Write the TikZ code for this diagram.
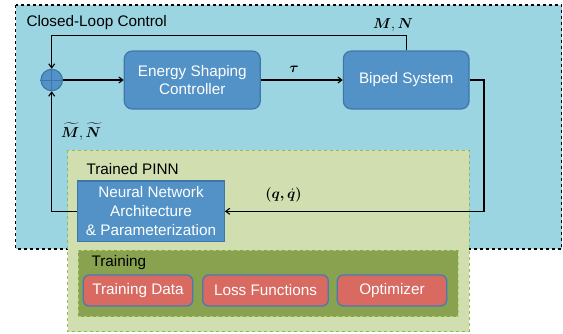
\documentclass[tikz,border=0pt]{standalone}
\usepackage{amsmath}
\usepackage{bm}
\usepackage{fontspec}
\setsansfont{Liberation Sans}
\usetikzlibrary{arrows.meta}

\definecolor{loopblue}{HTML}{9BD5E2}
\definecolor{boxblue}{HTML}{5292C6}
\definecolor{boxedge}{HTML}{3F76AA}
\definecolor{pinngreen}{HTML}{D0DEB0}
\definecolor{pinnedge}{HTML}{96B75A}
\definecolor{trainolive}{HTML}{88A24F}
\definecolor{trainedge}{HTML}{A6D46A}
\definecolor{itemred}{HTML}{D86A62}
\definecolor{itemedge}{HTML}{4A78B6}

\tikzset{
    txt/.style={font=\sffamily\fontsize{15.3}{18}\selectfont},
    block/.style={txt, draw=boxedge, line width=1.2pt, fill=boxblue, text=white,
        rounded corners=8pt, align=center, inner sep=0pt},
    item/.style={txt, draw=itemedge, line width=1.3pt, fill=itemred, text=white,
        rounded corners=6pt, minimum height=31pt, inner sep=0pt},
    lbl/.style={font=\fontsize{15.5}{18}\selectfont},
    wire/.style={line width=1.1pt},
}

\begin{document}
\begin{tikzpicture}[x=1pt, y=-1pt, >={Straight Barb[length=4pt,width=6pt]}]

\useasboundingbox (0,0) rectangle (563,333);

% --- Closed-loop region ---
\draw[dashed, line width=1.2pt, fill=loopblue] (15.5,5) rectangle (561.5,249);
\node[txt, anchor=west] (looptitle) at (23,22.5) {Closed-Loop Control};

% --- Trained PINN region ---
\draw[dashed, line width=1pt, draw=pinnedge, fill=pinngreen] (67.7,150) rectangle (469,331.5);
\node[txt, anchor=west] (pinntitle) at (83,169) {Trained PINN};

% --- Training sub-region ---
\draw[dashed, line width=1pt, draw=trainedge, fill=trainolive] (78.3,250) rectangle (458.3,316.7);
\node[txt, anchor=west] (traintitle) at (88,262.7) {Training};

\node[item, minimum width=109.4pt] (data)  at (138,290.5)   {Training Data};
\node[item, minimum width=125.6pt] (loss)  at (265.5,290.5) {Loss Functions};
\node[item, minimum width=109.4pt] (optim) at (392,290.5)   {Optimizer};

% --- Loop blocks ---
\node[block, minimum width=136pt, minimum height=58pt] (esc) at (192.3,80)
    {Energy Shaping\\Controller};
\node[block, minimum width=125.7pt, minimum height=58pt] (biped) at (406.2,80)
    {Biped System};
\node[block, rounded corners=0pt, minimum width=146.6pt, minimum height=60.7pt,
    font=\sffamily\fontsize{15.3}{19}\selectfont] (nn) at (151,211.3)
    {Neural Network\\Architecture\\\& Parameterization};

% summing junction
\node[circle, draw=boxedge, line width=1.2pt, fill=boxblue, minimum size=21.4pt,
    inner sep=0pt] (sum) at (51.7,80) {};
\draw[boxedge, line width=1pt] (sum.north) -- (sum.south) (sum.west) -- (sum.east);

% --- Signals ---
\coordinate (fbtop) at (0,35.7);
\coordinate (fbright) at (484,0);

\draw[wire, ->] (sum) -- (esc);
\draw[wire, ->] (esc) -- (biped);
\draw[wire, ->] (biped.north) -- (biped.north |- fbtop) -| (sum.north);
\draw[wire, ->] (biped.east) -- (biped.east -| fbright) |- (nn.east);
\draw[wire, ->] (nn.west) -| (sum.south);

\node[lbl] (tau)  at (294,69)    {$\bm{\tau}$};
\node[lbl] (mn)   at (393,24.5)  {$\bm{M},\bm{N}$};
\node[lbl] (qdq)  at (283.5,195) {$\bm{(q,\dot{q})}$};
\node[lbl] (mnhat) at (81,131.7) {$\bm{\widetilde{M}},\bm{\widetilde{N}}$};

\end{tikzpicture}
\end{document}
